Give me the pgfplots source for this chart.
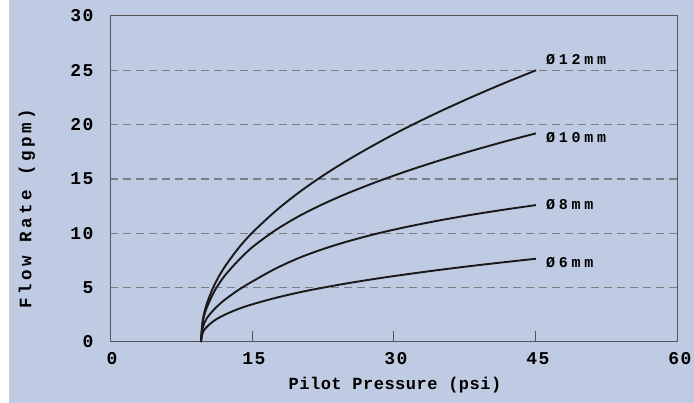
\documentclass[border=0pt]{standalone}
\usepackage{pgfplots}
\pgfplotsset{compat=1.18}
\usepackage{fontspec}
\setmainfont{Liberation Mono}
\newfontfamily\tickfont[LetterSpace=8]{Liberation Mono}
\newfontfamily\xlabfont[LetterSpace=3]{Liberation Mono}
\newfontfamily\ylabfont[LetterSpace=20]{Liberation Mono}
\newfontfamily\curvefont[LetterSpace=25]{Liberation Mono}
\definecolor{bg}{RGB}{191,202,227}
\definecolor{gridc}{RGB}{125,125,130}
\definecolor{axc}{RGB}{85,85,90}
\definecolor{curvec}{RGB}{25,25,25}
\begin{document}
\begin{tikzpicture}[x=1pt,y=1pt]
\fill[white] (0,0) rectangle (694,403);
\fill[bg] (9,0) rectangle (694,403);
\path[use as bounding box] (0,0) rectangle (694,403);
\begin{axis}[
  at={(110pt,61pt)}, anchor=south west,
  width=568pt, height=326pt, scale only axis,
  xmin=0, xmax=60, ymin=0, ymax=30,
  xtick={0,15,30,45,60}, ytick={5,10,15,20,25},
  extra y ticks={0,30}, extra y tick style={grid=none},
  /pgf/number format/assume math mode=true,
  axis line style={color=axc, line width=1pt},
  tick align=inside, xtick pos=bottom, ytick pos=left,
  major tick length=11pt,
  xtick style={color=axc, line width=1pt},
  ytick style={draw=none},
  ymajorgrids,
  grid style={color=gridc, line width=1.3pt, dash pattern=on 8pt off 5pt},
  xticklabel style={font=\tickfont\fontsize{18}{18}\selectfont\bfseries, yshift=-7pt, xshift=2pt},
  yticklabel style={font=\tickfont\fontsize{18}{18}\selectfont\bfseries, xshift=-13pt},
  clip=false,
]
\addplot[curvec, line width=1.9pt, smooth, tension=0.5] coordinates {
(9.6,0) (9.8,2.02) (10.2,3.45) (11,5.20) (12,6.76) (13.5,8.56) (15,10.03) (17.5,12.06) (20,13.79) (22.5,15.31) (25,16.68) (28,18.18) (31,19.58) (34.5,21.07) (38,22.46) (41.5,23.77) (45,25.0)};
\addplot[curvec, line width=1.9pt, smooth, tension=0.5] coordinates {
(9.6,0) (9.8,1.85) (10.2,3.10) (11,4.62) (12,5.97) (13.5,7.45) (15,8.70) (17.5,10.30) (20,11.60) (22.5,12.69) (25,13.65) (28,14.68) (31,15.62) (34.5,16.62) (38,17.54) (41.5,18.40) (45,19.2)};
\addplot[curvec, line width=1.9pt, smooth, tension=0.5] coordinates {
(9.6,0) (9.8,1.30) (10.2,2.15) (11,3.00) (12,3.80) (13.5,4.75) (15,5.55) (17.5,6.76) (20,7.75) (22.5,8.55) (25,9.23) (28,9.93) (31,10.53) (34.5,11.14) (38,11.68) (41.5,12.16) (45,12.6)};
\addplot[curvec, line width=1.9pt, smooth, tension=0.5] coordinates {
(9.6,0) (9.8,0.86) (10.2,1.37) (11,1.96) (12,2.46) (13.5,3.02) (15,3.46) (17.5,4.06) (20,4.57) (22.5,5.00) (25,5.39) (28,5.81) (31,6.19) (34.5,6.60) (38,6.98) (41.5,7.33) (45,7.66)};
\node[anchor=west, inner sep=0pt, font=\curvefont\fontsize{15}{15}\selectfont\bfseries] at (axis cs:46.05,26.0) {Ø12mm};
\node[anchor=west, inner sep=0pt, font=\curvefont\fontsize{15}{15}\selectfont\bfseries] at (axis cs:46.05,18.77) {Ø10mm};
\node[anchor=west, inner sep=0pt, font=\curvefont\fontsize{15}{15}\selectfont\bfseries] at (axis cs:46.05,12.65) {Ø8mm};
\node[anchor=west, inner sep=0pt, font=\curvefont\fontsize{15}{15}\selectfont\bfseries] at (axis cs:46.05,7.32) {Ø6mm};
\end{axis}
\node[font=\xlabfont\fontsize{17}{17}\selectfont\bfseries] at (395,18) {Pilot Pressure (psi)};
\node[rotate=90, font=\ylabfont\fontsize{17.5}{17.5}\selectfont\bfseries] at (27,194) {Flow Rate (gpm)};
\end{tikzpicture}
\end{document}
